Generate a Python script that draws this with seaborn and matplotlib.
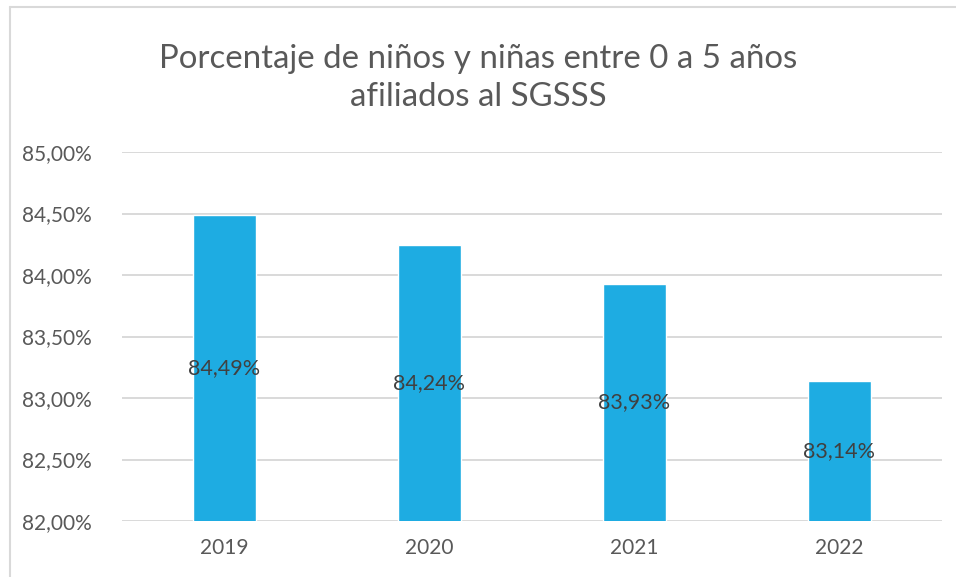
import matplotlib
matplotlib.use("Agg")
import matplotlib.pyplot as plt
import seaborn as sns
import pandas as pd
from matplotlib.ticker import FuncFormatter
from matplotlib.lines import Line2D

years = ["2019", "2020", "2021", "2022"]
values = [84.49, 84.24, 83.93, 83.14]
y_ticks = [82.0, 82.5, 83.0, 83.5, 84.0, 84.5, 85.0]
title = "Porcentaje de niños y niñas entre 0 a 5 años\nafiliados al SGSSS"

sns.set_theme(style="white")
plt.rcParams['font.family'] = ['Lato', 'DejaVu Sans']

df = pd.DataFrame({"year": years, "value": values})

fig = plt.figure(figsize=(9.56, 5.77), dpi=100)
ax = fig.add_axes([122/956, 1-521/577, (942-122)/956, (521-152)/577])

sns.barplot(data=df, x="year", y="value", color="#1EACE2", width=0.31,
            saturation=1, ax=ax, zorder=3)

ax.set_ylim(82, 85)
ax.set_yticks(y_ticks)
ax.yaxis.set_major_formatter(FuncFormatter(lambda v, p: f"{v:.2f}%".replace(".", ",")))
ax.grid(axis="y", color="#d9d9d9", linewidth=1.4, zorder=0)
ax.set_axisbelow(True)
for s in ax.spines.values():
    s.set_visible(False)
ax.set_xlabel("")
ax.set_ylabel("")
ax.tick_params(axis="both", length=0, labelsize=15, colors="#595959")
ax.tick_params(axis="y", pad=22)
ax.tick_params(axis="x", pad=12)

for i, v in enumerate(values):
    ax.text(i, (82 + v) / 2, f"{v:.2f}%".replace(".", ","), ha="center", va="center",
            fontsize=15.5, color="#404040", zorder=5)

fig.text(0.5, 1 - 78/577, title, ha="center", va="center", fontsize=23.8,
         color="#595959", linespacing=1.37)

# chart frame lines (top and left)
fig.add_artist(Line2D([10/956, 1], [1-7/577, 1-7/577], color="#d9d9d9", lw=1.5,
                      transform=fig.transFigure))
fig.add_artist(Line2D([10/956, 10/956], [0, 1-7/577], color="#d9d9d9", lw=1.5,
                      transform=fig.transFigure))

fig.savefig("out.png", dpi=100)
